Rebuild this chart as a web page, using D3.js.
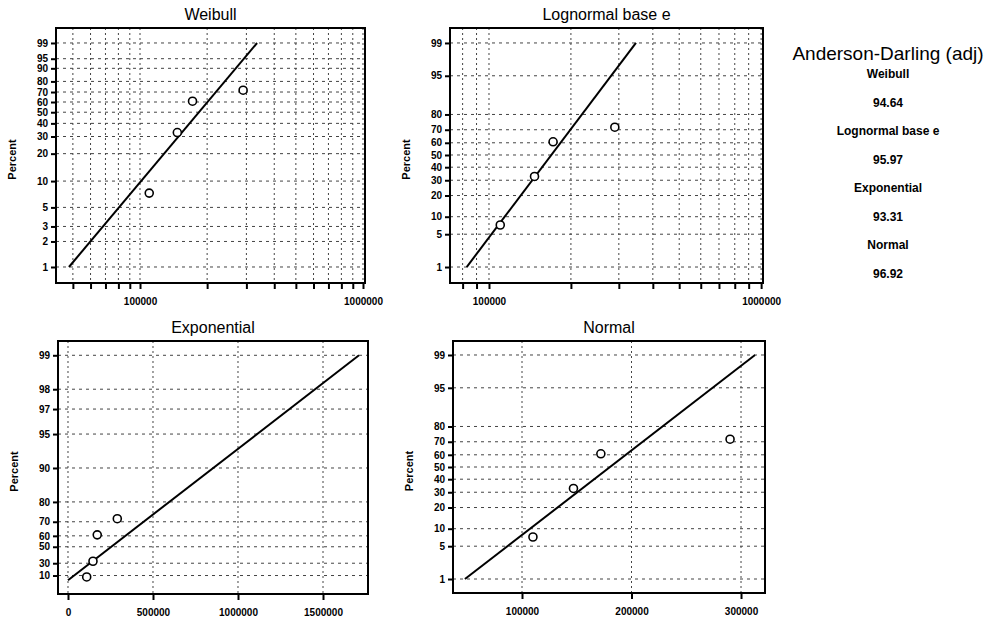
<!DOCTYPE html>
<html>
<head>
<meta charset="utf-8">
<script src="https://cdn.jsdelivr.net/npm/d3@7"></script>
<style>
body { margin: 0; background: #fff; }
svg { font-family: "Liberation Sans", Arial, sans-serif; }
</style>
</head>
<body>
<div id="chart"></div>
<script>
// Observed values and their plotted percents (same in every plot).
const times = [110000, 147000, 172000, 290000];
const percents = [7.3, 32.8, 60.8, 71.8];

const weibullFit = [[48000, 1], [335000, 99]];
const lognormalFit = [[82800, 1], [346800, 99]];
const exponentialFit = [[0, 1], [1711800, 99]];
const normalFit = [[47900, 1], [312800, 99]];

// Percent ticks.
const weibullTicks = [1, 2, 3, 5, 10, 20, 30, 40, 50, 60, 70, 80, 90, 95, 99];
const normalTicks = [1, 5, 10, 20, 30, 40, 50, 60, 70, 80, 95, 99];
const exponentialTicks = [10, 30, 50, 60, 70, 80, 90, 95, 97, 98, 99];

// Value gridlines / ticks.
const weibullGrid = [50000, 60000, 70000, 80000, 90000, 100000, 200000, 300000, 400000, 500000, 600000, 700000, 800000, 900000, 1000000];
const lognormalGrid = [80000, 90000, 100000, 200000, 300000, 400000, 500000, 600000, 700000, 800000, 900000, 1000000];
const exponentialGrid = [0, 500000, 1000000, 1500000];
const normalGrid = [100000, 200000, 300000];
const logLabels = [100000, 1000000];

// Anderson-Darling (adj) box.
const distNames = ["Weibull", "Lognormal base e", "Exponential", "Normal"];
const adValues = ["94.64", "95.97", "93.31", "96.92"];

// Inverse normal CDF (Acklam approximation).
function probit(p) {
    const a = [-39.69683028665376, 220.9460984245205, -275.9285104469687, 138.3577518672690, -30.66479806614716, 2.506628277459239];
    const b = [-54.47609879822406, 161.5858368580409, -155.6989798598866, 66.80131188771972, -13.28068155288572];
    const c = [-0.007784894002430293, -0.3223964580411365, -2.400758277161838, -2.549732539343734, 4.374664141464968, 2.938163982698783];
    const d = [0.007784695709041462, 0.3224671290700398, 2.445134137142996, 3.754408661907416];
    const pl = 0.02425;
    if (p < pl) {
        const q = Math.sqrt(-2 * Math.log(p));
        return (((((c[0]*q+c[1])*q+c[2])*q+c[3])*q+c[4])*q+c[5]) / ((((d[0]*q+d[1])*q+d[2])*q+d[3])*q+1);
    }
    if (p > 1 - pl) {
        const q = Math.sqrt(-2 * Math.log(1 - p));
        return -(((((c[0]*q+c[1])*q+c[2])*q+c[3])*q+c[4])*q+c[5]) / ((((d[0]*q+d[1])*q+d[2])*q+d[3])*q+1);
    }
    const q = p - 0.5, r = q * q;
    return (((((a[0]*r+a[1])*r+a[2])*r+a[3])*r+a[4])*r+a[5])*q / (((((b[0]*r+b[1])*r+b[2])*r+b[3])*r+b[4])*r+1);
}

const weibullT = pct => Math.log(-Math.log(1 - pct / 100));
const normalT = pct => probit(pct / 100);
const expT = pct => -Math.log(1 - pct / 100);

const panels = [
    { title: "Weibull", left: 56, right: 365, top: 28, bottom: 283,
      x: d3.scaleLog().domain([42000, 1021000]), yT: weibullT, yDomain: [-5.038, 1.937],
      ticks: weibullTicks, grid: weibullGrid, labels: logLabels, fit: weibullFit },
    { title: "Lognormal base e", left: 450, right: 763, top: 28, bottom: 283,
      x: d3.scaleLog().domain([71900, 1016000]), yT: normalT, yDomain: [-2.658, 2.637],
      ticks: normalTicks, grid: lognormalGrid, labels: logLabels, fit: lognormalFit },
    { title: "Exponential", left: 58, right: 368, top: 341, bottom: 594,
      x: d3.scaleLinear().domain([-58800, 1764700]), yT: expT, yDomain: [-0.272, 4.897],
      ticks: exponentialTicks, grid: exponentialGrid, labels: exponentialGrid, fit: exponentialFit },
    { title: "Normal", left: 453, right: 765, top: 341, bottom: 593,
      x: d3.scaleLinear().domain([36990, 321900]), yT: normalT, yDomain: [-2.617, 2.617],
      ticks: normalTicks, grid: normalGrid, labels: normalGrid, fit: normalFit }
];

const svg = d3.select("#chart").append("svg")
    .attr("width", 996)
    .attr("height", 620);

panels.forEach(p => {
    const x = p.x.range([p.left, p.right]);
    const y = d3.scaleLinear().domain(p.yDomain).range([p.bottom, p.top]);
    const g = svg.append("g");

    // gridlines
    g.selectAll(".hgrid").data(p.ticks).enter().append("line")
        .attr("x1", p.left).attr("x2", p.right)
        .attr("y1", d => y(p.yT(d))).attr("y2", d => y(p.yT(d)))
        .attr("stroke", "#444").attr("stroke-width", 1).attr("stroke-dasharray", "3,4");
    g.selectAll(".vgrid").data(p.grid).enter().append("line")
        .attr("x1", d => x(d)).attr("x2", d => x(d))
        .attr("y1", p.top).attr("y2", p.bottom)
        .attr("stroke", "#444").attr("stroke-width", 1).attr("stroke-dasharray", "2,3");

    // fitted line
    g.append("path")
        .datum(p.fit)
        .attr("d", d3.line().x(d => x(d[0])).y(d => y(p.yT(d[1]))))
        .attr("fill", "none").attr("stroke", "#000").attr("stroke-width", 2);

    // points
    g.selectAll("circle").data(times).enter().append("circle")
        .attr("cx", d => x(d))
        .attr("cy", (d, i) => y(p.yT(percents[i])))
        .attr("r", 4)
        .attr("fill", "#fff").attr("stroke", "#000").attr("stroke-width", 1.6);

    // frame
    g.append("rect")
        .attr("x", p.left).attr("y", p.top)
        .attr("width", p.right - p.left).attr("height", p.bottom - p.top)
        .attr("fill", "none").attr("stroke", "#000").attr("stroke-width", 2);

    // axes
    const yAxis = g.append("g")
        .attr("transform", `translate(${p.left},0)`)
        .call(d3.axisLeft(y).tickValues(p.ticks.map(p.yT)).tickFormat((d, i) => p.ticks[i]).tickSize(5).tickPadding(3));
    const xAxis = g.append("g")
        .attr("transform", `translate(0,${p.bottom})`)
        .call(d3.axisBottom(x).tickValues(p.grid).tickFormat(d => p.labels.includes(d) ? d : "").tickSize(6).tickPadding(9));
    [yAxis, xAxis].forEach(a => {
        a.select(".domain").remove();
        a.selectAll(".tick line").attr("stroke", "#000").attr("stroke-width", 2);
        a.selectAll("text").attr("fill", "#000").style("font-size", "10px").style("font-weight", "bold");
    });

    // titles
    g.append("text")
        .attr("x", (p.left + p.right) / 2).attr("y", p.top - 8)
        .attr("text-anchor", "middle")
        .style("font-size", "16px")
        .text(p.title);
    g.append("text")
        .attr("transform", `translate(${p.left - 40},${(p.top + p.bottom) / 2 + 4}) rotate(-90)`)
        .attr("text-anchor", "middle")
        .style("font-size", "11px").style("font-weight", "bold")
        .text("Percent");
});

// Anderson-Darling block
const ad = svg.append("g").attr("transform", "translate(888,0)");
ad.append("text").attr("y", 60).attr("text-anchor", "middle")
    .style("font-size", "19px").text("Anderson-Darling (adj)");
distNames.forEach((name, i) => {
    ad.append("text").attr("y", 78 + i * 57).attr("text-anchor", "middle")
        .style("font-size", "12px").style("font-weight", "bold").text(name);
    ad.append("text").attr("y", 107 + i * 57).attr("text-anchor", "middle")
        .style("font-size", "12px").style("font-weight", "bold").text(adValues[i]);
});
</script>
</body>
</html>
